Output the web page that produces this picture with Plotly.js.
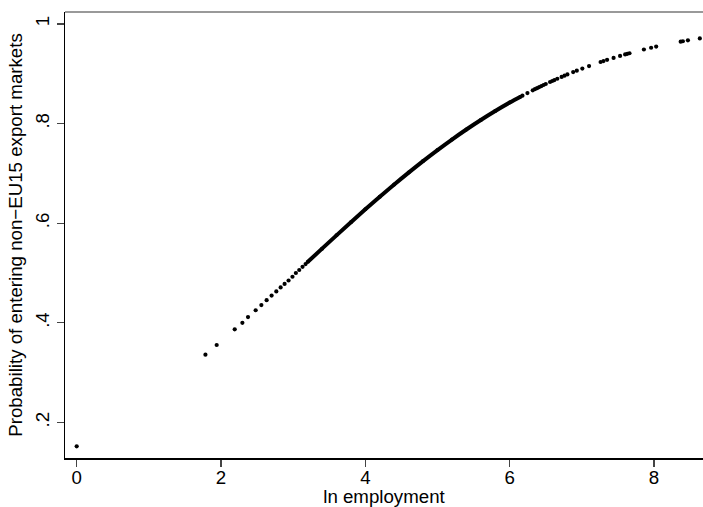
<!DOCTYPE html>
<html>
<head>
<meta charset="utf-8">
<script src="https://cdn.plot.ly/plotly-3.0.1.min.js"></script>
<style>html,body{margin:0;padding:0;background:#fff;}#chart{width:703px;height:507px;}</style>
</head>
<body>
<div id="chart"></div>
<script>
// Sparse predicted probabilities (individual dots)
const sparseX = [0, 1.784, 1.94, 2.19, 2.296, 2.374, 2.48, 2.559, 2.632, 2.701, 2.766, 2.826, 2.881, 2.936, 2.99, 3.037, 3.084, 3.13, 3.172,
  6.177, 6.246, 6.32, 6.35, 6.38, 6.41, 6.44, 6.47, 6.50, 6.56, 6.59, 6.62, 6.66, 6.72, 6.76, 6.80,
  6.88, 6.93, 7.007, 7.10, 7.26, 7.30, 7.35, 7.44, 7.53, 7.60, 7.63, 7.66, 7.86, 7.96, 8.03, 8.37, 8.40, 8.47, 8.635];
const sparseY = [0.152, 0.336, 0.3555, 0.387, 0.400, 0.4115, 0.4252, 0.4357, 0.4455, 0.4547, 0.463, 0.471, 0.478, 0.485, 0.4925, 0.500, 0.506, 0.5125, 0.518,
  0.8561, 0.8613, 0.8668, 0.8690, 0.8711, 0.8732, 0.8753, 0.8774, 0.8795, 0.8835, 0.8855, 0.8874, 0.8900, 0.8937, 0.8962, 0.8986,
  0.9034, 0.9062, 0.9105, 0.9155, 0.9236, 0.9255, 0.9279, 0.9319, 0.9359, 0.9388, 0.9400, 0.9412, 0.9487, 0.9522, 0.9545, 0.9645, 0.9653, 0.9671, 0.9710];
// Dense band of observations (drawn as a continuous thick run of dots)
const denseX = [3.2, 3.4, 3.6, 3.8, 4.0, 4.2, 4.4, 4.6, 4.8, 5.0, 5.2, 5.4, 5.6, 5.8, 6.0, 6.15];
const denseY = [0.5220, 0.5489, 0.5756, 0.6019, 0.6278, 0.6531, 0.6778, 0.7016, 0.7247, 0.7468, 0.7680, 0.7881, 0.8072, 0.8252, 0.8421, 0.8540];
// Axis ticks
const xTickVals = [0, 2, 4, 6, 8];
const xTickText = ["0", "2", "4", "6", "8"];
const yTickVals = [0.2, 0.4, 0.6, 0.8, 1];
const yTickText = [".2", ".4", ".6", ".8", "1"];

const FONT = "Liberation Sans, Arial, Helvetica, sans-serif";
const FS = 18.7;

const traces = [
  {x: denseX, y: denseY, type: "scatter", mode: "lines+markers",
   line: {color: "#000", width: 4, shape: "spline"}, marker: {color: "#000", size: 4}, hoverinfo: "skip"},
  {x: sparseX, y: sparseY, type: "scatter", mode: "markers",
   marker: {color: "#000", size: 4.2}, hoverinfo: "skip"}
];

const layout = {
  width: 703, height: 507,
  margin: {l: 65, r: 0, t: 12, b: 49},
  paper_bgcolor: "#fff", plot_bgcolor: "#fff",
  showlegend: false,
  font: {family: FONT, size: FS, color: "#000"},
  xaxis: {
    range: [-0.162, 8.679], showgrid: false, zeroline: false,
    showline: true, linecolor: "#000", linewidth: 1.5,
    ticks: "outside", ticklen: 7, tickwidth: 1.3, tickcolor: "#444",
    tickvals: xTickVals, ticktext: xTickText, ticklabelstandoff: -5,
    tickfont: {family: FONT, size: FS, color: "#000"},
    title: {text: "ln employment", font: {family: FONT, size: FS, color: "#000"}, standoff: 4}
  },
  yaxis: {
    range: [0.1286, 1.024], showgrid: false, zeroline: false,
    showline: true, linecolor: "#000", linewidth: 1.5,
    ticks: "outside", ticklen: 7, tickwidth: 1.3, tickcolor: "#444",
    tickvals: yTickVals, ticktext: yTickText, tickangle: -90,
    tickfont: {family: FONT, size: FS, color: "#000"},
    title: {text: "Probability of entering non\u2212EU15 export markets", font: {family: FONT, size: FS, color: "#000"}, standoff: 4}
  },
  shapes: [
    {type: "line", xref: "paper", yref: "paper", x0: 0, x1: 1, y0: 1, y1: 1,
     line: {color: "#777", width: 1.5}}
  ]
};

Plotly.newPlot("chart", traces, layout, {displayModeBar: false, staticPlot: true});
</script>
</body>
</html>
